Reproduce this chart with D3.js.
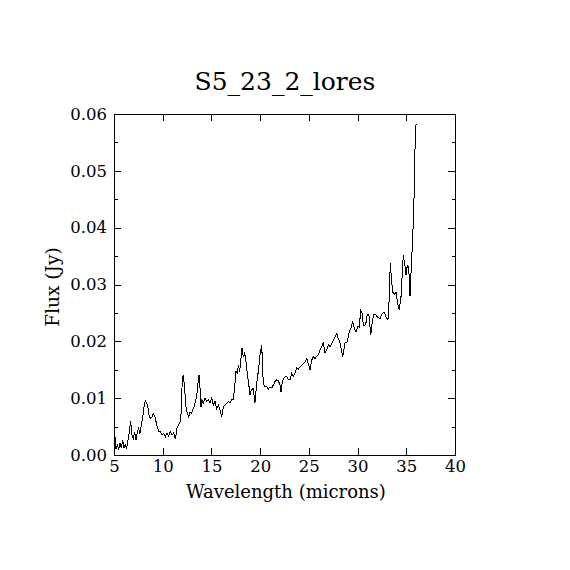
<!DOCTYPE html>
<html>
<head>
<meta charset="utf-8">
<script src="https://cdn.jsdelivr.net/npm/d3@7"></script>
<style>
  body { margin: 0; background: #fff; }
  text { font-family: "DejaVu Serif", serif; fill: #000; }
</style>
</head>
<body>
<svg id="chart" width="570" height="570"></svg>
<script>
// spectrum
const wavelength = [5.00,5.03,5.10,5.21,5.34,5.48,5.62,5.75,5.89,6.03,6.16,6.30,6.44,6.57,6.71,6.85,6.98,7.12,7.26,7.39,
  7.53,7.67,7.80,7.94,8.08,8.21,8.35,8.49,8.63,8.76,8.90,9.03,9.17,9.31,9.44,9.58,9.75,9.93,10.10,10.27,
  10.44,10.61,10.78,10.95,11.13,11.29,11.47,11.64,11.81,11.91,12.01,12.12,12.26,12.39,12.53,12.67,12.80,12.94,13.08,13.21,
  13.35,13.49,13.62,13.72,13.86,13.93,14.02,14.17,14.34,14.51,14.68,14.85,15.03,15.19,15.37,15.54,15.71,15.88,16.05,16.22,
  16.39,16.56,16.73,16.91,17.08,17.25,17.42,17.52,17.66,17.76,17.90,18.03,18.14,18.27,18.41,18.55,18.68,18.82,18.96,19.09,
  19.29,19.47,19.65,19.81,19.99,20.16,20.32,20.50,20.67,20.84,21.01,21.19,21.35,21.52,21.70,21.86,22.04,22.14,22.27,22.48,
  22.73,22.89,23.06,23.24,23.40,23.58,23.75,23.92,24.09,24.27,24.43,24.60,24.78,24.94,25.12,25.29,25.46,25.63,25.80,25.97,
  26.14,26.32,26.48,26.66,26.83,27.00,27.17,27.34,27.51,27.68,27.86,28.02,28.20,28.47,28.71,28.95,29.15,29.33,29.50,29.66,
  29.84,30.04,30.18,30.32,30.49,30.59,30.83,31.00,31.17,31.35,31.51,31.69,31.89,32.10,32.30,32.51,32.71,32.92,33.12,33.23,
  33.36,33.46,33.60,33.77,33.94,34.12,34.28,34.46,34.59,34.69,34.84,34.97,35.10,35.25,35.38,35.51,35.66,35.79,35.89,36.00];

const flux = [0.0098,0.0050,0.0032,0.0010,0.0018,0.0010,0.0021,0.0012,0.0026,0.0012,0.0018,0.0012,0.0026,0.0041,0.0059,0.0035,0.0029,0.0041,0.0026,0.0041,
  0.0047,0.0038,0.0053,0.0065,0.0085,0.0096,0.0092,0.0082,0.0067,0.0065,0.0067,0.0073,0.0069,0.0059,0.0050,0.0041,0.0042,0.0035,0.0038,0.0032,
  0.0039,0.0033,0.0041,0.0035,0.0039,0.0028,0.0047,0.0053,0.0059,0.0079,0.0135,0.0141,0.0114,0.0085,0.0073,0.0067,0.0076,0.0073,0.0079,0.0085,
  0.0094,0.0103,0.0126,0.0141,0.0111,0.0085,0.0097,0.0091,0.0100,0.0094,0.0097,0.0091,0.0101,0.0088,0.0094,0.0082,0.0088,0.0079,0.0067,0.0085,
  0.0088,0.0091,0.0094,0.0092,0.0097,0.0098,0.0126,0.0147,0.0144,0.0158,0.0147,0.0170,0.0188,0.0173,0.0179,0.0164,0.0144,0.0126,0.0106,0.0114,
  0.0117,0.0092,0.0126,0.0147,0.0176,0.0194,0.0126,0.0120,0.0121,0.0116,0.0120,0.0118,0.0123,0.0129,0.0132,0.0131,0.0123,0.0111,0.0129,0.0137,
  0.0138,0.0133,0.0132,0.0144,0.0138,0.0144,0.0153,0.0151,0.0155,0.0158,0.0161,0.0164,0.0170,0.0161,0.0150,0.0167,0.0173,0.0170,0.0174,0.0176,
  0.0185,0.0191,0.0199,0.0179,0.0185,0.0194,0.0191,0.0196,0.0202,0.0208,0.0214,0.0205,0.0197,0.0173,0.0197,0.0199,0.0217,0.0223,0.0235,0.0223,
  0.0217,0.0226,0.0225,0.0255,0.0249,0.0227,0.0229,0.0248,0.0246,0.0211,0.0235,0.0248,0.0246,0.0242,0.0240,0.0248,0.0252,0.0243,0.0238,0.0270,
  0.0337,0.0314,0.0287,0.0282,0.0287,0.0267,0.0255,0.0279,0.0320,0.0351,0.0337,0.0317,0.0333,0.0331,0.0279,0.0331,0.0381,0.0449,0.0537,0.0582];

const xTicks = [5, 10, 15, 20, 25, 30, 35, 40];
const yTicks = [0.00, 0.01, 0.02, 0.03, 0.04, 0.05, 0.06];
const yMinorTicks = [0.005, 0.015, 0.025, 0.035, 0.045, 0.055];

const title = "S5_23_2_lores";
const xLabel = "Wavelength (microns)";
const yLabel = "Flux (Jy)";

const svg = d3.select('#chart');
const plotLeft = 114, plotRight = 455, plotTop = 114, plotBottom = 455;

const x = d3.scaleLinear().domain([5, 40]).range([plotLeft, plotRight]);
const y = d3.scaleLinear().domain([0, 0.06]).range([plotBottom, plotTop]);

function styleAxis(g) {
  g.select('.domain').remove();
  g.selectAll('line').attr('stroke', '#000').attr('shape-rendering', 'crispEdges');
  g.selectAll('text').attr('font-family', '"DejaVu Serif", serif').attr('font-size', 16.5).attr('fill', '#000');
}

// bottom + left with labels
svg.append('g')
  .attr('transform', `translate(0,${plotBottom})`)
  .call(d3.axisBottom(x).tickValues(xTicks).tickSize(-7).tickPadding(5).tickFormat(d3.format('d')))
  .call(styleAxis);

svg.append('g')
  .attr('transform', `translate(${plotLeft},0)`)
  .call(d3.axisLeft(y).tickValues(yTicks).tickSize(-7).tickPadding(7).tickFormat(d3.format('.2f')))
  .call(styleAxis);

// top + right, ticks only
svg.append('g')
  .attr('transform', `translate(0,${plotTop})`)
  .call(d3.axisTop(x).tickValues(xTicks).tickSize(-7).tickFormat(''))
  .call(styleAxis);

svg.append('g')
  .attr('transform', `translate(${plotRight},0)`)
  .call(d3.axisRight(y).tickValues(yTicks).tickSize(-7).tickFormat(''))
  .call(styleAxis);

// minor y ticks both sides
svg.append('g')
  .attr('transform', `translate(${plotLeft},0)`)
  .call(d3.axisLeft(y).tickValues(yMinorTicks).tickSize(-3.5).tickFormat(''))
  .call(styleAxis);

svg.append('g')
  .attr('transform', `translate(${plotRight},0)`)
  .call(d3.axisRight(y).tickValues(yMinorTicks).tickSize(-3.5).tickFormat(''))
  .call(styleAxis);

// frame
svg.append('rect')
  .attr('x', plotLeft).attr('y', plotTop)
  .attr('width', plotRight - plotLeft).attr('height', plotBottom - plotTop)
  .attr('fill', 'none').attr('stroke', '#000')
  .attr('shape-rendering', 'crispEdges');

const line = d3.line()
  .x(function(d, i) { return x(wavelength[i]); })
  .y(function(d) { return y(d); });

svg.append('path')
  .datum(flux)
  .attr('d', line)
  .attr('fill', 'none')
  .attr('stroke', '#000')
  .attr('stroke-width', 1)
  .attr('shape-rendering', 'crispEdges');

svg.append('text')
  .attr('x', 285).attr('y', 90)
  .attr('text-anchor', 'middle')
  .attr('font-size', 25)
  .text(title);

svg.append('text')
  .attr('x', 286).attr('y', 498)
  .attr('text-anchor', 'middle')
  .attr('font-size', 18)
  .text(xLabel);

svg.append('text')
  .attr('transform', 'translate(59,287) rotate(-90)')
  .attr('text-anchor', 'middle')
  .attr('font-size', 18.5)
  .text(yLabel);
</script>
</body>
</html>
